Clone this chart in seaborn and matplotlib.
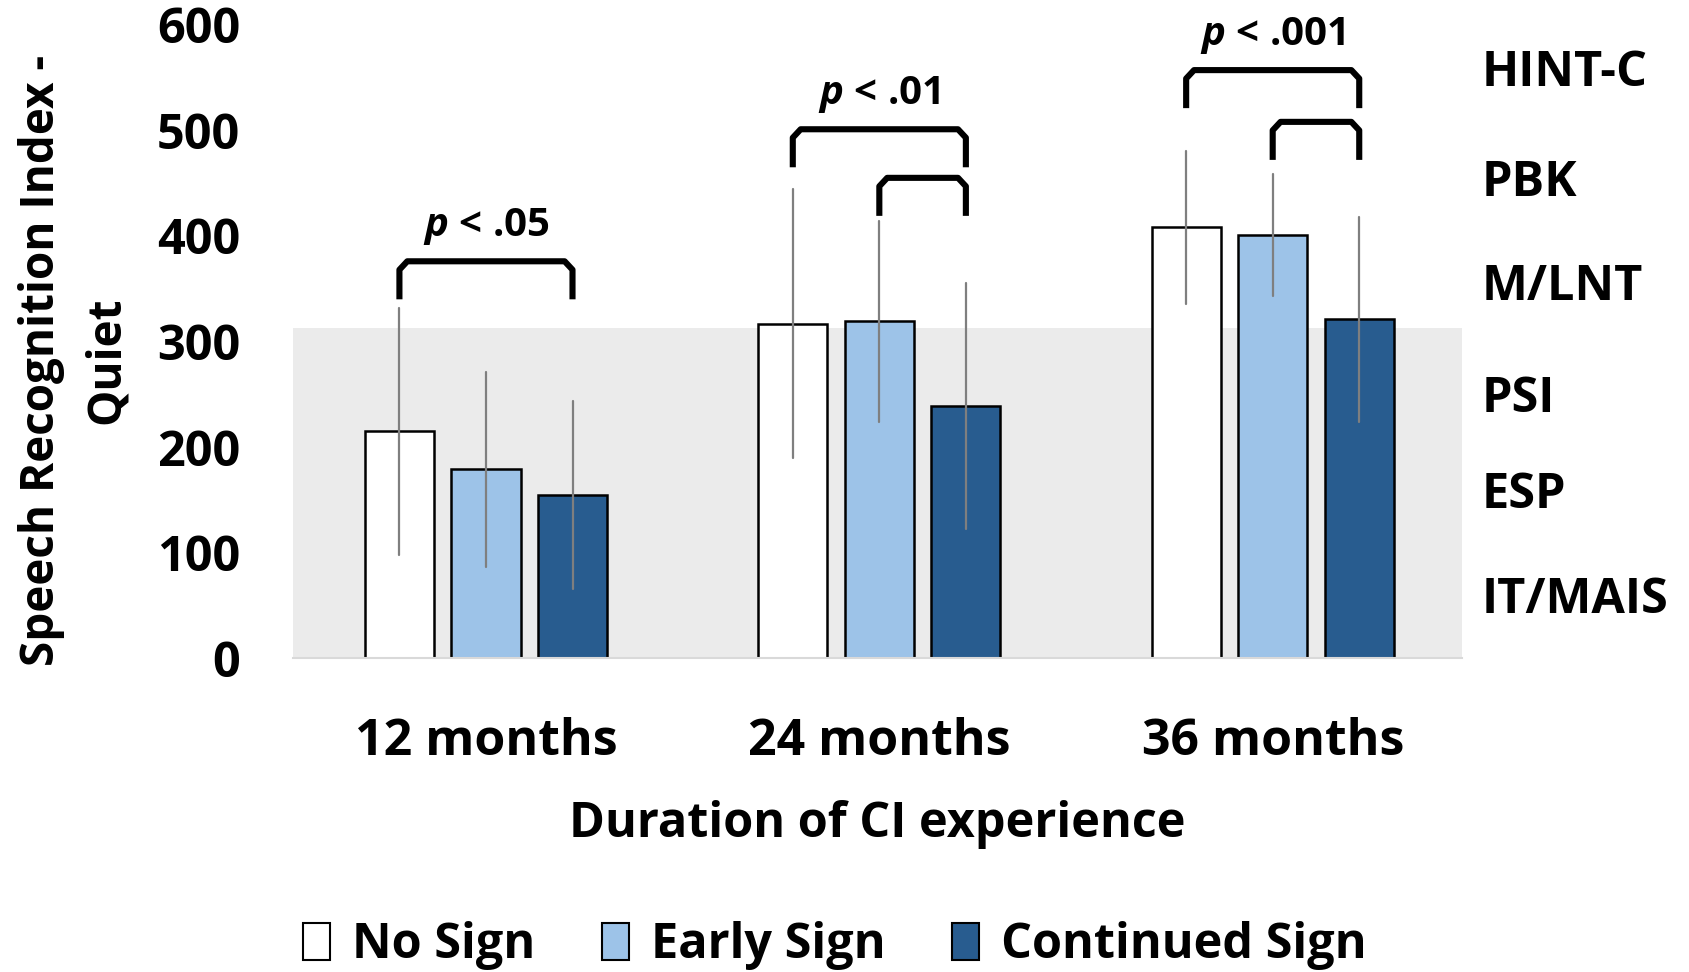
import matplotlib
matplotlib.use("Agg")
import matplotlib.pyplot as plt
import numpy as np
import pandas as pd
import seaborn as sns
from matplotlib.patches import Patch
from matplotlib.transforms import blended_transform_factory

groups = ["12 months", "24 months", "36 months"]
signs = ["No Sign", "Early Sign", "Continued Sign"]
no_sign = [215, 317, 408]
early_sign = [179, 319, 401]
continued_sign = [155, 239, 321]
no_sign_sd = [117, 127, 72]
early_sign_sd = [92, 95, 58]
continued_sign_sd = [89, 116, 97]

band_top = 313
test_labels = ["HINT-C", "PBK", "M/LNT", "PSI", "ESP", "IT/MAIS"]
test_levels = [554, 450, 351, 245, 154, 55]

# (group, from sign, to sign, top of bracket, label)
brackets = [
    (0, 0, 2, 376, "< .05"),
    (1, 0, 2, 501, "< .01"),
    (1, 1, 2, 455, None),
    (2, 0, 2, 557, "< .001"),
    (2, 1, 2, 508, None),
]

sns.set_style("white")
plt.rcParams["font.family"] = ["Open Sans", "DejaVu Sans"]
plt.rcParams["font.weight"] = "bold"
plt.rcParams["text.color"] = "black"
plt.rcParams["axes.labelcolor"] = "black"
plt.rcParams["xtick.color"] = "black"
plt.rcParams["ytick.color"] = "black"
plt.rcParams["mathtext.fontset"] = "custom"
plt.rcParams["mathtext.bfit"] = "Open Sans:italic:bold"

df = pd.DataFrame({
    "group": np.repeat(groups, 3),
    "sign": signs * 3,
    "value": np.ravel(np.column_stack([no_sign, early_sign, continued_sign])),
    "sd": np.ravel(np.column_stack([no_sign_sd, early_sign_sd, continued_sign_sd])),
})

palette = {"No Sign": "#ffffff", "Early Sign": "#9dc3e8", "Continued Sign": "#285c8f"}

fig = plt.figure(figsize=(16.9, 9.72), dpi=100)
ax = fig.add_axes([0.1735, 0.3226, 0.6913, 0.652])

ax.axhspan(0, band_top, color="#ebebeb", zorder=0, lw=0)

sns.barplot(data=df, x="group", y="value", hue="sign", order=groups, hue_order=signs,
            palette=palette, saturation=1, width=0.66, gap=0.2, errorbar=None,
            edgecolor="black", linewidth=1.8, legend=False, ax=ax, zorder=2)

centers = {}
for hi, cont in enumerate(ax.containers):
    for gi, bar in enumerate(cont):
        cx = bar.get_x() + bar.get_width() / 2
        centers[(gi, hi)] = cx
        row = df[(df["group"] == groups[gi]) & (df["sign"] == signs[hi])].iloc[0]
        ax.plot([cx, cx], [row["value"] - row["sd"], row["value"] + row["sd"]],
                color="#7f7f7f", lw=1.6, zorder=3)

drop = 36
for gi, a, b, top, lab in brackets:
    x0, x1 = centers[(gi, a)], centers[(gi, b)]
    ax.plot([x0, x0, x0 + 0.02, x1 - 0.02, x1, x1],
            [top - drop, top - 8, top, top, top - 8, top - drop],
            color="black", lw=4.4, solid_joinstyle="round", solid_capstyle="butt",
            clip_on=False, zorder=4)
    if lab:
        ax.text((x0 + x1) / 2, top + 33, r"$\mathbfit{p}$ " + lab, ha="center", va="center",
                fontsize=29, fontweight="bold", clip_on=False)

ax.set_xlim(-0.49, 2.48)
ax.set_ylim(0, 600)
ax.set_yticks(range(0, 601, 100))
ax.tick_params(axis="y", length=0, pad=38, labelsize=35)
ax.tick_params(axis="x", length=0, pad=42, labelsize=36)
for s in ["left", "right", "top"]:
    ax.spines[s].set_visible(False)
ax.spines["bottom"].set_color("#d9d9d9")
ax.spines["bottom"].set_linewidth(1.5)

ax.set_xlabel("Duration of CI experience", fontsize=35, fontweight="bold", labelpad=24)
ax.set_ylabel("Speech Recognition Index -\nQuiet", fontsize=33, fontweight="bold",
              linespacing=1.5)
ax.yaxis.set_label_coords(-0.14, 0.47)

trans = blended_transform_factory(ax.transAxes, ax.transData)
for lab, lvl in zip(test_labels, test_levels):
    ax.text(1.017, lvl, lab, transform=trans, ha="left", va="center",
            fontsize=35, fontweight="bold", clip_on=False)

handles = [Patch(facecolor=palette[s], edgecolor="black", linewidth=1.5, label=s) for s in signs]
fig.legend(handles=handles, loc="center", bbox_to_anchor=(0.494, 0.027), ncol=3,
           frameon=False, fontsize=35, handlelength=0.55, handleheight=0.8,
           handletextpad=0.45, columnspacing=1.38)

fig.savefig("out.png", dpi=100)
